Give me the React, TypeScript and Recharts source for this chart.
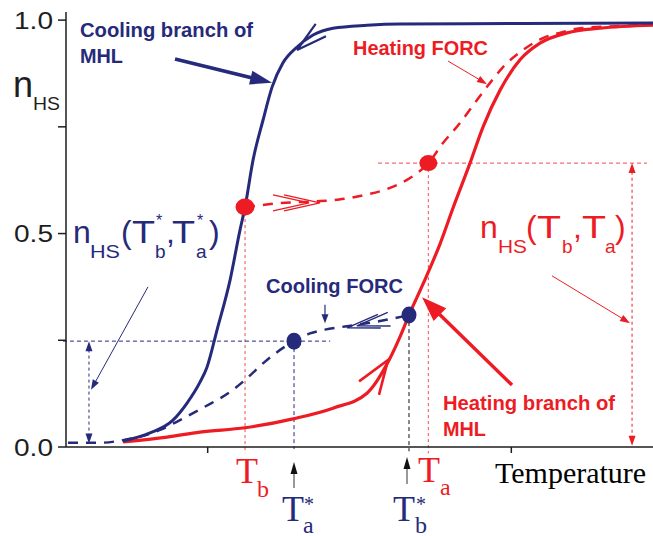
import React from 'react';
import { LineChart, Line, XAxis, YAxis, ReferenceLine, ReferenceDot } from 'recharts';

const NAVY = '#262a7b';
const RED = '#ed1c24';
const INK = '#1e1e1e';
const SANS = '"Liberation Sans", Arial, sans-serif';
const SERIF = '"Liberation Serif", "Times New Roman", serif';

// [temperature (arb. units), n_HS] pairs
const coolingMhl = [
  [5.63, 0.014], [8.3, 0.033], [10.57, 0.063], [11.96, 0.103], [13.24, 0.152],
  [13.93, 0.187], [14.92, 0.274], [16.21, 0.391], [17.19, 0.508], [17.69, 0.562],
  [18.48, 0.672], [19.47, 0.766], [20.36, 0.843], [21.44, 0.9], [22.83, 0.937],
  [24.41, 0.965], [26.38, 0.981], [29.74, 0.988], [33.0, 0.991], [45.0, 0.992], [58.0, 0.993],
];
const heatingMhl = [
  [5.63, 0.012], [9.98, 0.023], [13.24, 0.035], [17.69, 0.045], [22.43, 0.066],
  [26.38, 0.091], [29.74, 0.126], [31.82, 0.199], [33.0, 0.258], [33.89, 0.309],
  [35.28, 0.382], [36.96, 0.476], [38.24, 0.56], [39.92, 0.665], [41.21, 0.75],
  [42.89, 0.836], [44.86, 0.907], [46.84, 0.946], [49.51, 0.97], [52.77, 0.981], [58.0, 0.988],
];
const heatingForc = [
  [17.69, 0.562], [19.17, 0.566], [21.0, 0.571], [23.12, 0.574], [25.1, 0.576],
  [27.0, 0.58], [29.05, 0.588], [32.02, 0.607], [33.99, 0.63], [35.8, 0.665],
  [37.25, 0.712], [38.93, 0.759], [40.61, 0.813], [41.9, 0.853], [43.18, 0.89],
  [45.16, 0.93], [47.13, 0.958], [49.11, 0.972], [50.79, 0.981], [54.74, 0.986], [58.0, 0.989],
];
const coolingForc = [
  [0.2, 0.01], [3.36, 0.01], [5.63, 0.016], [9.29, 0.04], [11.26, 0.063],
  [13.54, 0.092], [16.5, 0.134], [17.69, 0.157], [19.86, 0.204], [22.53, 0.248],
  [24.11, 0.266], [25.59, 0.275], [27.77, 0.283], [31.03, 0.295], [33.89, 0.309],
];

// reversal points
const tB = 17.69, nB = 0.562; // T_b, on cooling branch
const tA = 35.8, nA = 0.665; // T_a, on heating FORC
const tAs = 22.53, nAs = 0.248; // T*_a, on cooling FORC
const tBs = 33.89, nBs = 0.309; // T*_b, on heating branch

const xTicks = [14, 44];
const yTicks = [0, 0.25, 0.5, 0.75, 1];
const yLabeled = [0, 0.5, 1];

const rows = (pts: number[][]) => pts.map(([t, n]) => ({ t, n }));

type Head = 'fill' | 'open' | 'none';
interface ArrowStyle {
  color: string;
  width: number;
  head?: Head;
  tail?: Head;
  len?: number;
  half?: number;
  dash?: string;
  noLine?: boolean;
  repeat?: number;
}

// draws a reference segment with optional arrow heads at either end
const arrow = (s: ArrowStyle) => (p: any) => {
  const { x1, y1, x2, y2 } = p;
  const L = Math.hypot(x2 - x1, y2 - y1) || 1;
  const ux = (x2 - x1) / L;
  const uy = (y2 - y1) / L;
  const len = s.len ?? 10;
  const half = s.half ?? 3.5;
  const heads: React.ReactNode[] = [];
  const addHead = (kind: Head | undefined, tx: number, ty: number, dx: number, dy: number, k: string) => {
    if (!kind || kind === 'none') return;
    const bx = tx - dx * len;
    const by = ty - dy * len;
    const pts = `${bx - dy * half},${by + dx * half} ${tx},${ty} ${bx + dy * half},${by - dx * half}`;
    heads.push(
      kind === 'fill' ? (
        <polygon key={k} points={pts} fill={s.color} />
      ) : (
        <polyline key={k} points={pts} fill="none" stroke={s.color} strokeWidth={s.width} />
      )
    );
  };
  addHead(s.head, x2, y2, ux, uy, 'h');
  if (s.repeat) addHead(s.head, x2 - ux * s.repeat, y2 - uy * s.repeat, ux, uy, 'h2');
  addHead(s.tail, x1, y1, -ux, -uy, 't');
  const trimEnd = s.head === 'fill' ? len * 0.7 : 0;
  const trimStart = s.tail === 'fill' ? len * 0.7 : 0;
  return (
    <g>
      {!s.noLine && (
        <line
          x1={x1 + ux * trimStart}
          y1={y1 + uy * trimStart}
          x2={x2 - ux * trimEnd}
          y2={y2 - uy * trimEnd}
          stroke={s.color}
          strokeWidth={s.width}
          strokeDasharray={s.dash}
        />
      )}
      {heads}
    </g>
  );
};

const dotShape = (color: string, rx: number, ry: number) => (p: any) => (
  <ellipse cx={p.cx} cy={p.cy} rx={rx} ry={ry} fill={color} />
);

const YTick = (p: any) => {
  const v = p.payload.value;
  if (!yLabeled.includes(v)) return null;
  return (
    <text x={p.x} y={p.y + 8.5} textAnchor="end" fontSize={24} fontFamily={SANS} fill={INK}
      textLength={39} lengthAdjust="spacingAndGlyphs">
      {v.toFixed(1)}
    </text>
  );
};

const seg = (x1: number, y1: number, x2: number, y2: number) => [{ x: x1, y: y1 }, { x: x2, y: y2 }];

const Labels = () => (
  <svg width={653} height={536} style={{ position: 'absolute', left: 0, top: 0, pointerEvents: 'none' }}>
    <g fontFamily={SANS} fontWeight="bold" fontSize={19.5}>
      <text x={80} y={37} fill={NAVY} textLength={173} lengthAdjust="spacingAndGlyphs">Cooling branch of</text>
      <text x={80} y={63} fill={NAVY} textLength={43} lengthAdjust="spacingAndGlyphs">MHL</text>
      <text x={353} y={55} fill={RED} textLength={135} lengthAdjust="spacingAndGlyphs">Heating FORC</text>
      <text x={266} y={293} fill={NAVY} textLength={137} lengthAdjust="spacingAndGlyphs">Cooling FORC</text>
      <text x={443} y={410} fill={RED} textLength={172} lengthAdjust="spacingAndGlyphs">Heating branch of</text>
      <text x={443} y={436} fill={RED} textLength={43} lengthAdjust="spacingAndGlyphs">MHL</text>
    </g>

    {/* axis title */}
    <g fontFamily={SANS} fill={INK}>
      <text x={13} y={97} fontSize={36}>n</text>
      <text x={33} y={110} fontSize={19} textLength={27} lengthAdjust="spacingAndGlyphs">HS</text>
    </g>

    {/* n_HS(T*_b, T*_a) */}
    <g fontFamily={SANS} fill={NAVY}>
      <text x={73} y={243} fontSize={32}>n</text>
      <text x={90} y={258} fontSize={19} textLength={30} lengthAdjust="spacingAndGlyphs">HS</text>
      <text x={121} y={243} fontSize={32}>(</text>
      <text x={132} y={243} fontSize={32} textLength={23} lengthAdjust="spacingAndGlyphs">T</text>
      <text x={156} y={226} fontSize={16}>*</text>
      <text x={155} y={258} fontSize={19}>b</text>
      <text x={166} y={243} fontSize={32}>,</text>
      <text x={172} y={243} fontSize={32} textLength={23} lengthAdjust="spacingAndGlyphs">T</text>
      <text x={197} y={226} fontSize={16}>*</text>
      <text x={196} y={258} fontSize={19}>a</text>
      <text x={209} y={243} fontSize={32}>)</text>
    </g>

    {/* n_HS(T_b, T_a) */}
    <g fontFamily={SANS} fill={RED}>
      <text x={480} y={238} fontSize={32}>n</text>
      <text x={498} y={253} fontSize={19} textLength={29} lengthAdjust="spacingAndGlyphs">HS</text>
      <text x={526} y={238} fontSize={32}>(</text>
      <text x={537} y={238} fontSize={32} textLength={24} lengthAdjust="spacingAndGlyphs">T</text>
      <text x={562} y={253} fontSize={19}>b</text>
      <text x={573} y={238} fontSize={32}>,</text>
      <text x={582} y={238} fontSize={32} textLength={24} lengthAdjust="spacingAndGlyphs">T</text>
      <text x={605} y={253} fontSize={19}>a</text>
      <text x={615} y={238} fontSize={32}>)</text>
    </g>

    {/* temperature markers under the axis */}
    <g fontFamily={SERIF}>
      <text x={236} y={483} fontSize={36} fill={RED}>T</text>
      <text x={257} y={497} fontSize={24} fill={RED}>b</text>
      <text x={418} y={482} fontSize={36} fill={RED}>T</text>
      <text x={440} y={495} fontSize={24} fill={RED}>a</text>
      <text x={282} y={521} fontSize={36} fill={NAVY}>T</text>
      <text x={304} y={511} fontSize={20} fill={NAVY}>*</text>
      <text x={303} y={533} fontSize={24} fill={NAVY}>a</text>
      <text x={393} y={521} fontSize={36} fill={NAVY}>T</text>
      <text x={416} y={511} fontSize={20} fill={NAVY}>*</text>
      <text x={415} y={533} fontSize={24} fill={NAVY}>b</text>
      <text x={495} y={483} fontSize={30} fill="#000">Temperature</text>
    </g>
    <g stroke="#555" strokeWidth={1.2}>
      <line x1={294} y1={488} x2={294} y2={470} />
      <line x1={407} y1={484} x2={407} y2={465} />
    </g>
    <polygon points="290.5,474 294,462 297.5,474" fill="#111" />
    <polygon points="403.5,469 407,457 410.5,469" fill="#111" />
  </svg>
);

export default function App() {
  return (
    <div style={{ position: 'absolute', left: 0, top: 0, width: 653, height: 536, background: '#fff' }}>
      <LineChart width={653} height={536} margin={{ top: 12, right: 0, bottom: 59, left: 0 }}>
        <XAxis
          type="number"
          dataKey="t"
          domain={[0, 58]}
          ticks={xTicks}
          tickFormatter={() => ''}
          tickSize={6}
          height={30}
          stroke={INK}
          strokeWidth={1.5}
          allowDataOverflow
        />
        <XAxis
          xAxisId="top"
          orientation="top"
          type="number"
          dataKey="t"
          domain={[0, 58]}
          tick={false}
          tickLine={false}
          height={0}
          stroke="#333"
          strokeWidth={1.5}
          allowDataOverflow
        />
        <YAxis
          type="number"
          domain={[0, 1.019]}
          ticks={yTicks}
          tick={<YTick />}
          tickSize={8}
          tickMargin={5}
          width={66}
          stroke={INK}
          strokeWidth={1.5}
          allowDataOverflow
        />

        {/* guide lines to the reversal points */}
        <ReferenceLine segment={seg(tB, nB, tB, -0.015)} ifOverflow="visible"
          shape={arrow({ color: '#f0474d', width: 1, dash: '3 3' })} />
        <ReferenceLine segment={seg(tA, nA, tA, -0.015)} ifOverflow="visible"
          shape={arrow({ color: '#f0474d', width: 1, dash: '3 3' })} />
        <ReferenceLine segment={seg(30.83, nA, 57.4, nA)} ifOverflow="visible"
          shape={arrow({ color: '#f0474d', width: 1, dash: '4 3' })} />
        <ReferenceLine segment={seg(55.93, 0.003, 55.93, nA)} ifOverflow="visible"
          shape={arrow({ color: RED, width: 1, dash: '3 3', head: 'fill', tail: 'fill', len: 10, half: 3.5 })} />
        <ReferenceLine segment={seg(tAs, nAs, tAs, -0.005)} ifOverflow="visible"
          shape={arrow({ color: NAVY, width: 1, dash: '4 3' })} />
        <ReferenceLine segment={seg(tBs, nBs, tBs, -0.01)} ifOverflow="visible"
          shape={arrow({ color: '#111', width: 1, dash: '4 3' })} />
        <ReferenceLine segment={seg(-0.3, nAs, 26.1, nAs)} ifOverflow="visible"
          shape={arrow({ color: NAVY, width: 1, dash: '4 3' })} />
        <ReferenceLine segment={seg(2.27, 0.008, 2.27, nAs)} ifOverflow="visible"
          shape={arrow({ color: NAVY, width: 1, dash: '3 3', head: 'fill', tail: 'fill', len: 10, half: 3.5 })} />

        <Line data={rows(coolingForc)} dataKey="n" type="monotone" stroke={NAVY} strokeWidth={2.5}
          strokeDasharray="10 8" dot={false} isAnimationActive={false} />
        <Line data={rows(heatingForc)} dataKey="n" type="monotone" stroke={RED} strokeWidth={2.5}
          strokeDasharray="10 8" dot={false} isAnimationActive={false} />
        <Line data={rows(heatingMhl)} dataKey="n" type="monotone" stroke={RED} strokeWidth={3.2}
          dot={false} isAnimationActive={false} />
        <Line data={rows(coolingMhl)} dataKey="n" type="monotone" stroke={NAVY} strokeWidth={3}
          dot={false} isAnimationActive={false} />

        {/* direction marks on the branches */}
        <ReferenceLine segment={seg(25.2, 0.977, 22.83, 0.93)} ifOverflow="visible"
          shape={arrow({ color: NAVY, width: 2.2, head: 'open', noLine: true, len: 31, half: 8 })} />
        <ReferenceLine segment={seg(29.94, 0.138, 31.82, 0.204)} ifOverflow="visible"
          shape={arrow({ color: RED, width: 2.6, head: 'open', noLine: true, len: 34, half: 12 })} />
        <ReferenceLine segment={seg(21.44, 0.572, 25.1, 0.572)} ifOverflow="visible"
          shape={arrow({ color: RED, width: 1.4, head: 'open', noLine: true, len: 36, half: 8, repeat: 11 })} />
        <ReferenceLine segment={seg(31.03, 0.295, 27.77, 0.279)} ifOverflow="visible"
          shape={arrow({ color: NAVY, width: 1.4, head: 'open', noLine: true, len: 33, half: 7, repeat: 10 })} />

        {/* pointers from the captions */}
        <ReferenceLine segment={seg(10.77, 0.909, 20.36, 0.853)} ifOverflow="visible"
          shape={arrow({ color: NAVY, width: 3.5, head: 'fill', len: 22, half: 7 })} />
        <ReferenceLine segment={seg(37.75, 0.904, 41.6, 0.85)} ifOverflow="visible"
          shape={arrow({ color: RED, width: 1, head: 'fill', len: 10, half: 3.5 })} />
        <ReferenceLine segment={seg(8.1, 0.375, 2.47, 0.134)} ifOverflow="visible"
          shape={arrow({ color: NAVY, width: 1, head: 'fill', len: 10, half: 3.5 })} />
        <ReferenceLine segment={seg(48.02, 0.401, 55.73, 0.29)} ifOverflow="visible"
          shape={arrow({ color: RED, width: 1, head: 'fill', len: 10, half: 3.5 })} />
        <ReferenceLine segment={seg(25.59, 0.333, 25.59, 0.29)} ifOverflow="visible"
          shape={arrow({ color: NAVY, width: 1.2, head: 'fill', len: 9, half: 3.5 })} />
        <ReferenceLine segment={seg(44.07, 0.145, 35.18, 0.351)} ifOverflow="visible"
          shape={arrow({ color: RED, width: 3.5, head: 'fill', len: 25, half: 9 })} />

        <ReferenceDot x={tB} y={nB} ifOverflow="visible" shape={dotShape(RED, 9.5, 8.5)} />
        <ReferenceDot x={tA} y={nA} ifOverflow="visible" shape={dotShape(RED, 9, 8)} />
        <ReferenceDot x={tAs} y={nAs} ifOverflow="visible" shape={dotShape(NAVY, 7.5, 8.5)} />
        <ReferenceDot x={tBs} y={nBs} ifOverflow="visible" shape={dotShape(NAVY, 7.5, 8.5)} />
      </LineChart>
      <Labels />
    </div>
  );
}
